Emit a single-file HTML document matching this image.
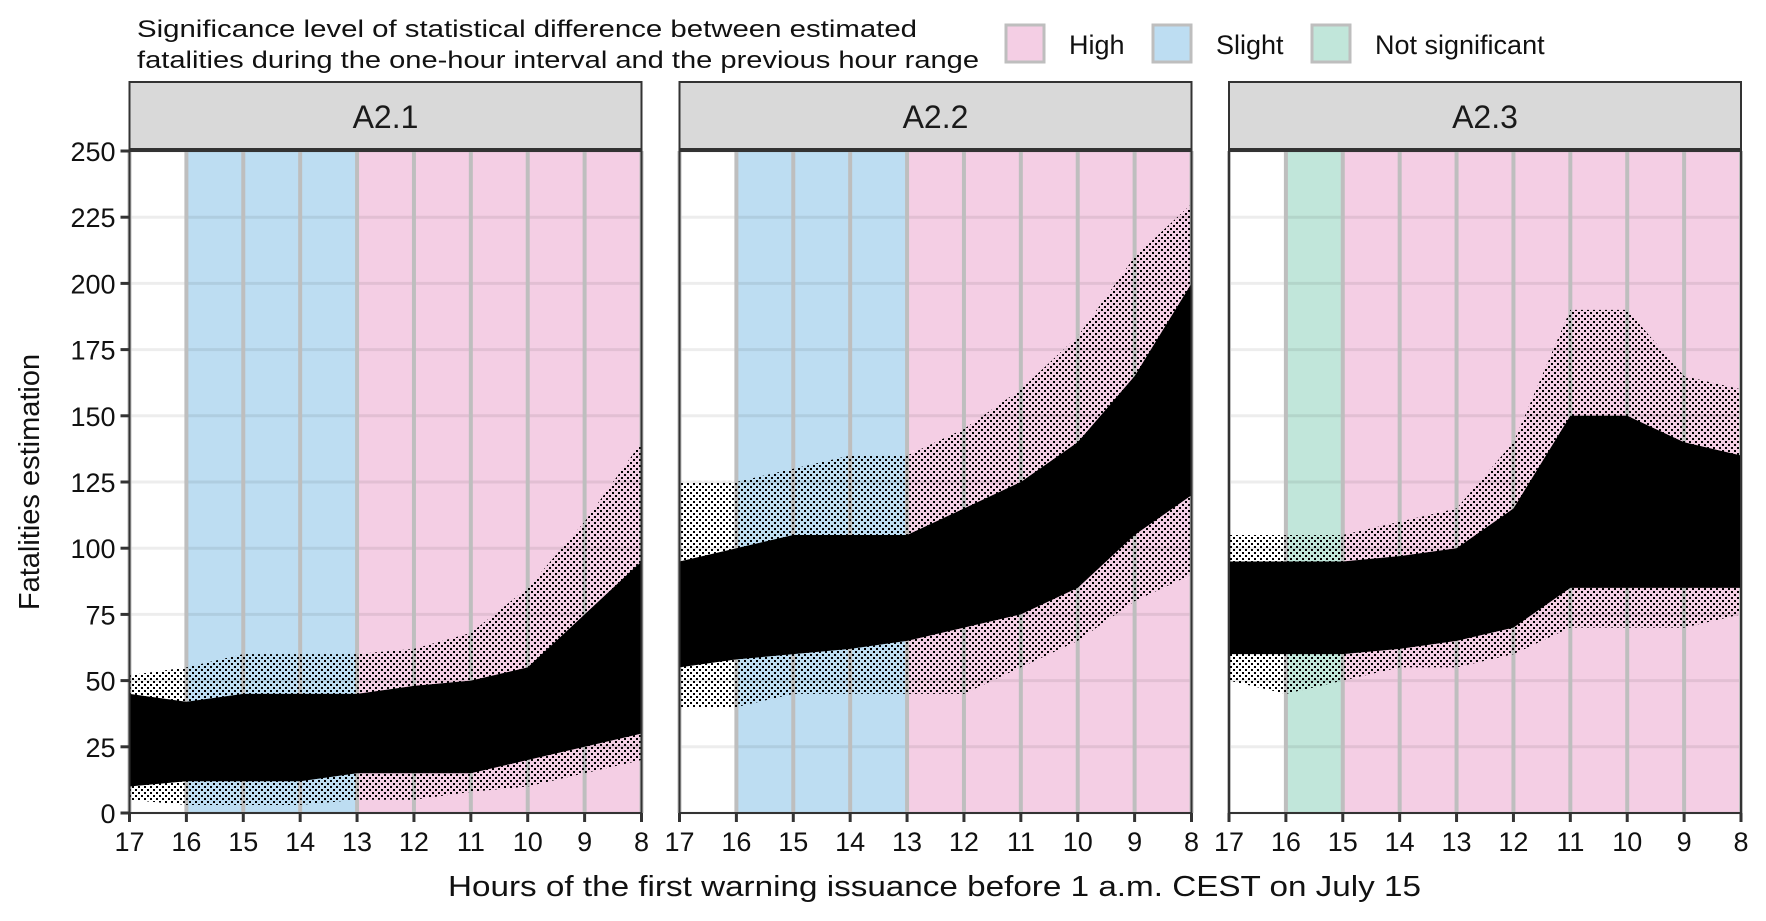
<!DOCTYPE html>
<html><head><meta charset="utf-8"><style>
html,body{margin:0;padding:0;background:#fff}
svg{display:block;font-family:"Liberation Sans",Arial,sans-serif}
</style></head><body>
<svg id="chart" width="1766" height="921" viewBox="0 0 1766 921">
<defs>
<pattern id="speck" width="6" height="6" patternUnits="userSpaceOnUse">
<rect x="0" y="0" width="2" height="2" fill="#000"/>
<rect x="3" y="3" width="2" height="2" fill="#000"/>
</pattern>
</defs>
<g>
<text x="137" y="37" font-size="24" fill="#111" textLength="780" lengthAdjust="spacingAndGlyphs">Significance level of statistical difference between estimated</text>
<text x="137" y="68" font-size="24" fill="#111" textLength="842" lengthAdjust="spacingAndGlyphs">fatalities during the one-hour interval and the previous hour range</text>
<rect x="1006" y="25" width="38" height="37" fill="#F4CEE4" stroke="#BEBEBE" stroke-width="3"/>
<text x="1069" y="54" font-size="27" fill="#111">High</text>
<rect x="1153" y="25" width="38" height="37" fill="#BDDDF2" stroke="#BEBEBE" stroke-width="3"/>
<text x="1216" y="54" font-size="27" fill="#111">Slight</text>
<rect x="1312" y="25" width="38" height="37" fill="#C1E6DA" stroke="#BEBEBE" stroke-width="3"/>
<text x="1375" y="54" font-size="27" fill="#111">Not significant</text>
</g>
<text transform="translate(39,482) rotate(-90)" text-anchor="middle" font-size="29" fill="#111">Fatalities estimation</text>
<text x="448" y="896" font-size="29" fill="#111" textLength="973" lengthAdjust="spacingAndGlyphs">Hours of the first warning issuance before 1 a.m. CEST on July 15</text>
<g id="panels"></g>
</svg>
<script>
const panelNames = ["A2.1","A2.2","A2.3"];
const hours = [17,16,15,14,13,12,11,10,9,8];
const yTicks = [0,25,50,75,100,125,150,175,200,225,250];
const xTickLabels = ["17","16","15","14","13","12","11","10","9","8"];
// significance bands: [fromHour, toHour, level]
const bandsA21 = [[16,13,"slight"],[13,8,"high"]];
const bandsA22 = [[16,13,"slight"],[13,8,"high"]];
const bandsA23 = [[16,15,"not"],[15,8,"high"]];
// dense core of the point cloud (lower / upper) at each hour
const coreLoA21 = [10,12,12,12,15,15,15,20,25,30];
const coreHiA21 = [45,42,45,45,45,48,50,55,75,95];
const fringeLoA21 = [5,3,3,3,5,5,8,10,15,20];
const fringeHiA21 = [52,55,60,60,60,62,68,85,110,140];
const coreLoA22 = [55,58,60,62,65,70,75,85,105,120];
const coreHiA22 = [95,100,105,105,105,115,125,140,165,200];
const fringeLoA22 = [40,40,45,45,45,45,55,65,80,90];
const fringeHiA22 = [125,125,130,135,135,145,160,180,210,230];
const coreLoA23 = [60,60,60,62,65,70,85,85,85,85];
const coreHiA23 = [95,95,95,97,100,115,150,150,140,135];
const fringeLoA23 = [50,45,50,55,55,60,70,70,70,75];
const fringeHiA23 = [105,105,105,110,115,140,190,190,165,160];

const bandsAll = [bandsA21,bandsA22,bandsA23];
const coreLo = [coreLoA21,coreLoA22,coreLoA23];
const coreHi = [coreHiA21,coreHiA22,coreHiA23];
const fringeLo = [fringeLoA21,fringeLoA22,fringeLoA23];
const fringeHi = [fringeHiA21,fringeHiA22,fringeHiA23];

const NS="http://www.w3.org/2000/svg";
const lefts=[129.5,679.5,1229], W=512, plotTop=151, plotBot=813;
const colors={high:"#F4CEE4",slight:"#BDDDF2",not:"#C1E6DA"};
function yS(v){return plotBot-(v/250)*(plotBot-plotTop);}
function mk(tag,attrs,parent){const e=document.createElementNS(NS,tag);for(const k in attrs)e.setAttribute(k,attrs[k]);parent.appendChild(e);return e;}
const root=document.getElementById("panels");
panelNames.forEach((name,p)=>{
  const L=lefts[p];
  const xS=h=>L+(17-h)/9*W;
  const g=mk("g",{},root);
  
  
  const strip=mk("rect",{x:L,y:82,width:W,height:67,fill:"#D9D9D9",stroke:"#333",'stroke-width':2},g);
  
  
  const st=mk("text",{x:L+W/2,y:128,'text-anchor':"middle",'font-size':32,fill:"#1a1a1a"},g);
  st.textContent=name;
  
  
  mk("rect",{x:L,y:plotTop,width:W,height:plotBot-plotTop,fill:"#fff"},g);
  bandsAll[p].forEach(b=>{
    const r=mk("rect",{x:xS(b[0]),y:plotTop,width:xS(b[1])-xS(b[0]),height:plotBot-plotTop,fill:colors[b[2]]},g);
    
    
  });
  yTicks.forEach(v=>{
    const gl=mk("line",{x1:L,x2:L+W,y1:yS(v),y2:yS(v),stroke:"rgba(0,0,0,0.07)",'stroke-width':3},g);
    
    
  });
  hours.forEach(h=>{
    const vl=mk("line",{x1:xS(h),x2:xS(h),y1:plotTop,y2:plotBot,stroke:"#BEBEBE",'stroke-width':4},g);
    
    
  });
  function poly(lo,hi){
    let pts=[];
    hours.forEach((h,i)=>pts.push(xS(h)+","+yS(hi[i])));
    for(let i=hours.length-1;i>=0;i--)pts.push(xS(hours[i])+","+yS(lo[i]));
    return pts.join(" ");
  }
  const fr=mk("polygon",{points:poly(fringeLo[p],fringeHi[p]),fill:"url(#speck)"},g);
  
  
  const co=mk("polygon",{points:poly(coreLo[p],coreHi[p]),fill:"#000"},g);
  
  
  const bd=mk("rect",{x:L,y:plotTop,width:W,height:plotBot-plotTop,fill:"none",stroke:"#333",'stroke-width':2},g);
  
  
  hours.forEach((h,i)=>{
    mk("line",{x1:xS(h),x2:xS(h),y1:plotBot,y2:plotBot+9,stroke:"#333",'stroke-width':3},g);
    const t=mk("text",{x:xS(h),y:851,'text-anchor':"middle",'font-size':27,fill:"#111"},g);
    t.textContent=xTickLabels[i];
    
    
  });
  if(p===0){
    yTicks.forEach(v=>{
      mk("line",{x1:L-9,x2:L,y1:yS(v),y2:yS(v),stroke:"#333",'stroke-width':3},g);
      const t=mk("text",{x:L-14,y:yS(v)+10,'text-anchor':"end",'font-size':27,fill:"#111"},g);
      t.textContent=v;
      
      
    });
  }
});
</script>
</body></html>
